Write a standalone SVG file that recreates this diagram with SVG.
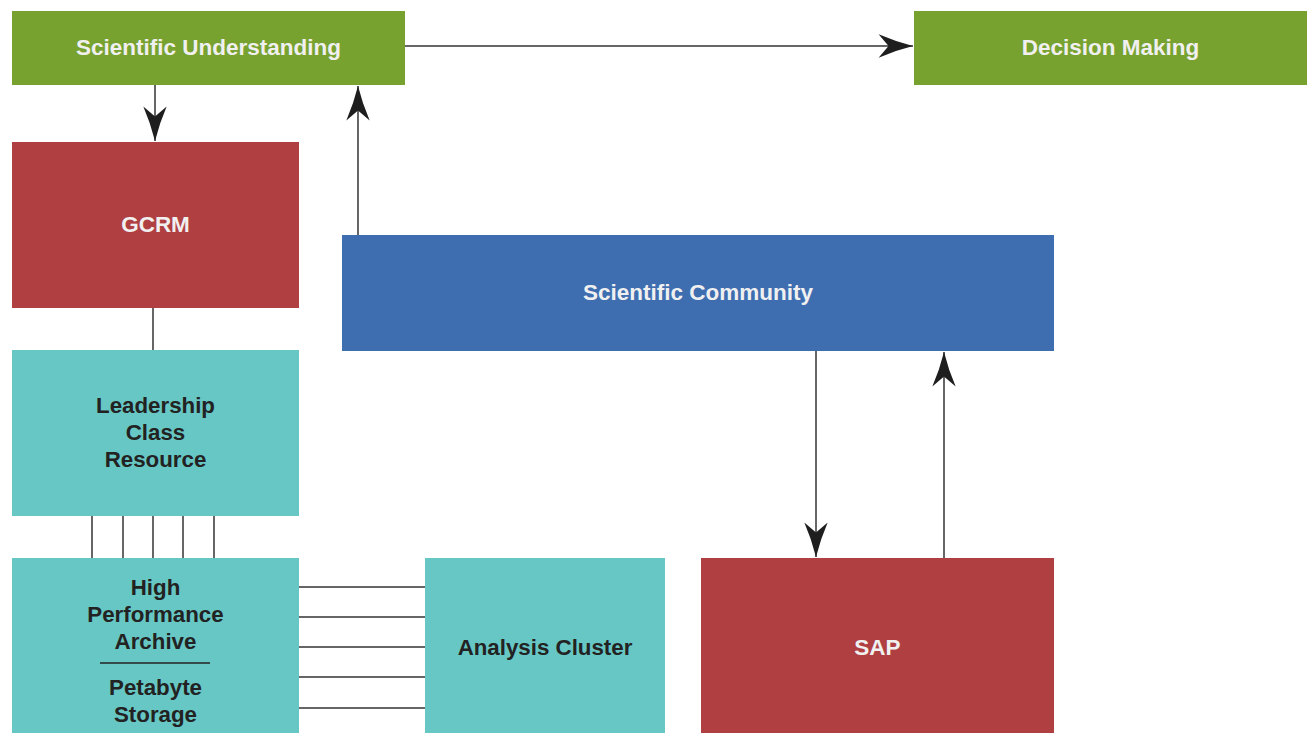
<svg xmlns="http://www.w3.org/2000/svg" width="1307" height="733" viewBox="0 0 1307 733">
<style>
.green{fill:#78a22f}
.red{fill:#b03f42}
.teal{fill:#67c7c4}
.blue{fill:#3e6db0}
.lt{font-family:"Liberation Sans",Arial,sans-serif;font-weight:bold;font-size:22.5px;fill:#f0f0f0;text-anchor:middle}
.dk{font-family:"Liberation Sans",Arial,sans-serif;font-weight:bold;font-size:22.3px;fill:#222;text-anchor:middle}
.ln{stroke:#333;stroke-width:1.5;fill:none}
</style>
<defs>
<marker id="ah" markerUnits="userSpaceOnUse" markerWidth="40" markerHeight="30" refX="0" refY="0" viewBox="-34 -12 36 24" orient="auto">
<path d="M0,0 Q-16,-4 -31,-10.5 L-22,0 L-31,10.5 Q-16,4 0,0 Z" fill="#1e1e1e"/>
</marker>
</defs>
<g id="connectors">
<line class="ln" x1="405" y1="46" x2="913" y2="46" marker-end="url(#ah)"/>
<line class="ln" x1="155" y1="85" x2="155" y2="141" marker-end="url(#ah)"/>
<line class="ln" x1="358" y1="235" x2="358" y2="86" marker-end="url(#ah)"/>
<line class="ln" x1="816" y1="351" x2="816" y2="557" marker-end="url(#ah)"/>
<line class="ln" x1="944" y1="563" x2="944" y2="352" marker-end="url(#ah)"/>
<line class="ln" x1="153" y1="308" x2="153" y2="350"/>
<line class="ln" x1="92" y1="516" x2="92" y2="558"/>
<line class="ln" x1="123" y1="516" x2="123" y2="558"/>
<line class="ln" x1="153" y1="516" x2="153" y2="558"/>
<line class="ln" x1="183" y1="516" x2="183" y2="558"/>
<line class="ln" x1="214" y1="516" x2="214" y2="558"/>
<line class="ln" x1="299" y1="587" x2="425" y2="587"/>
<line class="ln" x1="299" y1="617" x2="425" y2="617"/>
<line class="ln" x1="299" y1="647" x2="425" y2="647"/>
<line class="ln" x1="299" y1="677" x2="425" y2="677"/>
<line class="ln" x1="299" y1="708" x2="425" y2="708"/>
</g>
<g id="scientific-understanding">
<rect class="green" x="12" y="11" width="393" height="74"/>
<text class="lt" x="208.5" y="55">Scientific Understanding</text>
</g>
<g id="decision-making">
<rect class="green" x="914" y="11" width="393" height="74"/>
<text class="lt" x="1110.5" y="55">Decision Making</text>
</g>
<g id="gcrm">
<rect class="red" x="12" y="142" width="287" height="166"/>
<text class="lt" x="155.5" y="232">GCRM</text>
</g>
<g id="scientific-community">
<rect class="blue" x="342" y="235" width="712" height="116"/>
<text class="lt" x="698" y="300">Scientific Community</text>
</g>
<g id="leadership-class-resource">
<rect class="teal" x="12" y="350" width="287" height="166"/>
<text class="dk" x="155.5" y="413">Leadership</text>
<text class="dk" x="155.5" y="440">Class</text>
<text class="dk" x="155.5" y="467">Resource</text>
</g>
<g id="high-performance-archive">
<rect class="teal" x="12" y="558" width="287" height="175"/>
<text class="dk" x="155.5" y="595">High</text>
<text class="dk" x="155.5" y="622">Performance</text>
<text class="dk" x="155.5" y="649">Archive</text>
<line x1="100" y1="663" x2="210" y2="663" stroke="#222" stroke-width="1.5"/>
<text class="dk" x="155.5" y="695">Petabyte</text>
<text class="dk" x="155.5" y="722">Storage</text>
</g>
<g id="analysis-cluster">
<rect class="teal" x="425" y="558" width="240" height="175"/>
<text class="dk" x="545" y="655">Analysis Cluster</text>
</g>
<g id="sap">
<rect class="red" x="701" y="558" width="353" height="175"/>
<text class="lt" x="877.5" y="655">SAP</text>
</g>
</svg>
